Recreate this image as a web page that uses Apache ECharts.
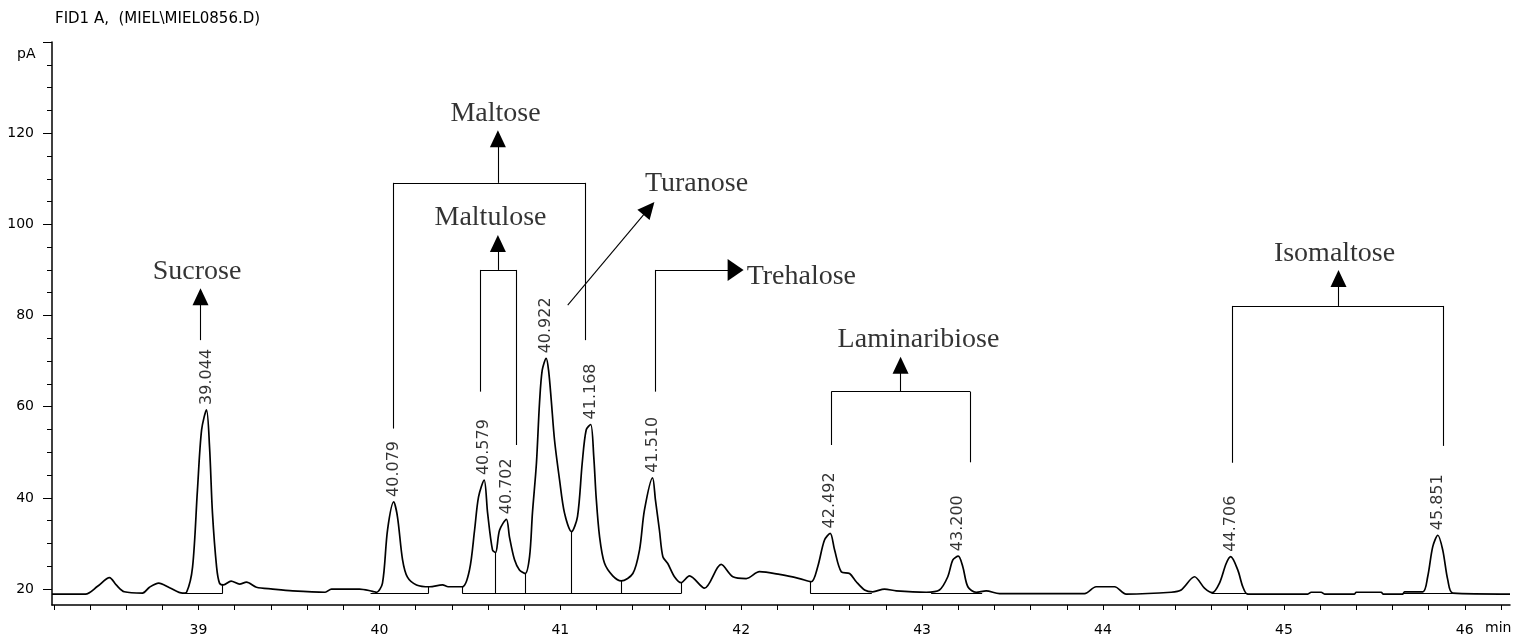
<!DOCTYPE html>
<html>
<head>
<meta charset="utf-8">
<script src="https://cdn.jsdelivr.net/npm/echarts@6/dist/echarts.min.js"></script>
<style>
html,body{margin:0;padding:0;background:#fff;}
#chart{width:1516px;height:638px;}
</style>
</head>
<body>
<div id="chart"></div>
<script>
// ---- Chromatogram trace (retention time in min, signal in pA) ----
const traceTimes = [38.19,38.375,38.442,38.508,38.545,38.59,38.69,38.729,38.78,38.84,38.912,38.934,38.967,38.994,39.017,39.044,39.061,39.077,39.1,39.116,39.138,39.18,39.227,39.265,39.32,39.41,39.52,39.70,39.735,39.89,39.962,39.984,40.017,40.045,40.079,40.1,40.128,40.155,40.205,40.277,40.349,40.38,40.459,40.498,40.526,40.548,40.579,40.598,40.625,40.642,40.664,40.702,40.719,40.747,40.774,40.806,40.830,40.846,40.868,40.885,40.900,40.922,40.935,40.950,40.968,40.996,41.023,41.062,41.095,41.121,41.143,41.168,41.185,41.198,41.217,41.244,41.290,41.337,41.401,41.438,41.465,41.510,41.526,41.548,41.567,41.594,41.631,41.668,41.714,41.797,41.889,41.954,42.028,42.101,42.212,42.322,42.387,42.423,42.460,42.492,42.516,42.553,42.599,42.636,42.682,42.727,42.792,42.857,43.023,43.096,43.142,43.170,43.200,43.225,43.253,43.299,43.354,43.428,43.898,43.962,44.064,44.128,44.377,44.432,44.506,44.561,44.604,44.644,44.681,44.706,44.745,44.773,44.800,45.132,45.151,45.206,45.225,45.390,45.400,45.538,45.550,45.657,45.667,45.768,45.795,45.823,45.851,45.878,45.906,45.934,46.25];
const traceSignal = [18.9,18.9,20.6,22.5,20.9,19.4,19.1,20.4,21.3,20.3,19.1,19.3,24.8,41.7,54.9,59.3,51.1,36.7,24.8,21.3,20.9,21.75,21.1,21.5,20.4,20.0,19.6,19.3,20.0,20.0,19.5,19.3,21.3,33.0,39.1,35.8,26.4,22.6,20.9,20.5,20.9,20.5,20.5,24.2,32.9,40.2,43.9,36.7,28.6,28.0,32.9,35.3,31.4,26.4,24.2,23.4,27.1,36.7,47.6,60.8,68.0,70.6,68.0,61.4,52.7,43.9,36.7,32.6,35.9,47.6,54.9,56.1,49.0,40.2,31.5,25.7,22.9,21.8,23.4,28.6,37.3,44.4,39.5,32.9,27.1,25.6,22.7,21.4,22.9,20.2,25.4,22.7,22.3,23.8,23.2,22.3,21.6,24.9,30.7,32.2,28.6,23.8,23.4,21.6,19.8,19.4,20.0,19.6,19.3,19.8,22.7,26.4,27.2,24.9,20.5,19.3,19.6,19.0,19.0,20.5,20.5,18.9,19.3,19.8,22.7,20.2,19.2,21.3,25.6,27.1,24.2,20.5,18.9,18.9,19.3,19.3,18.9,18.9,19.3,19.3,18.9,18.9,19.4,19.4,22.7,29.3,31.8,28.6,22.0,19.1,18.9];

// ---- Integrated peaks (apex time, apex height) ----
const peakTimes = [39.044,40.079,40.579,40.702,40.922,41.168,41.510,42.492,43.200,44.706,45.851];
const peakHeights = [59.3,39.1,43.9,35.3,70.6,56.1,44.4,32.2,27.2,27.1,31.8];

// ---- Integration baselines and drop lines ----
const baselineLevel = 19.0;
const baselineStarts = [38.912,39.951,40.459,42.383,43.050,44.600,45.656];
const baselineEnds   = [39.133,40.271,41.668,42.722,43.332,44.800,45.934];
const dropTimes = [39.133,40.271,40.459,40.642,40.806,41.062,41.337,41.668,42.383];
const dropTops  = [20.9,20.5,20.5,28.0,23.4,32.6,21.8,21.4,21.6];

// ---- Compound annotations ----
const compoundNames = ['Sucrose','Maltose','Maltulose','Turanose','Trehalose','Laminaribiose','Isomaltose'];
const nameTimes   = [38.992,40.642,40.614,41.753,42.030,42.980,45.280];
const nameSignals = [89.7,124.2,101.4,109.0,88.6,74.6,93.5];
// brackets: left time, left bottom, right time, right bottom, top level
const bracketLeftT  = [40.078,40.557,42.498,44.714];
const bracketLeftB  = [55.2,63.3,51.6,47.7];
const bracketRightT = [41.139,40.756,43.266,45.882];
const bracketRightB = [74.6,51.6,47.8,51.4];
const bracketTop    = [109.1,90.0,63.3,82.1];
// arrows: start (t,v) -> head (t,v)
const arrowStartT = [39.011,40.655,40.655,41.041,42.881,45.302,41.525];
const arrowStartV = [74.6,109.1,90.0,82.3,63.3,82.1,90.0];
const arrowEndT   = [39.011,40.655,40.655,41.490,42.881,45.302,41.969];
const arrowEndV   = [84.1,118.8,95.8,103.5,69.1,88.1,90.0];
// Trehalose leader vertical part
const trehaloseStemT = 41.525, trehaloseStemBottom = 63.3;

// ---- Axis ticks ----
const xTickValues = [38.2,38.4,38.6,38.8,39.0,39.2,39.4,39.6,39.8,40.0,40.2,40.4,40.6,40.8,41.0,41.2,41.4,41.6,41.8,42.0,42.2,42.4,42.6,42.8,43.0,43.2,43.4,43.6,43.8,44.0,44.2,44.4,44.6,44.8,45.0,45.2,45.4,45.6,45.8,46.0,46.2];
const xLabelValues = [39,40,41,42,43,44,45,46];
const yMinorTicks = [20,25,30,35,40,45,50,55,60,65,70,75,80,85,90,95,100,105,110,115,120,125,130,135,140];
const yMajorTicks = [20,40,60,80,100,120,140];
const yLabelValues = [20,40,60,80,100,120];

// ---------------------------------------------------------------
const trace = traceTimes.map((t, i) => [t, traceSignal[i]]);
const seg = (a, b) => [{coord: a}, {coord: b}];

const plainSegs = [];
baselineStarts.forEach((s, i) => plainSegs.push(seg([s, baselineLevel], [baselineEnds[i], baselineLevel])));
dropTimes.forEach((t, i) => plainSegs.push(seg([t, baselineLevel], [t, dropTops[i]])));
bracketLeftT.forEach((lt, i) => {
  plainSegs.push(seg([lt, bracketLeftB[i]], [lt, bracketTop[i]]));
  plainSegs.push(seg([lt, bracketTop[i]], [bracketRightT[i], bracketTop[i]]));
  plainSegs.push(seg([bracketRightT[i], bracketTop[i]], [bracketRightT[i], bracketRightB[i]]));
});
plainSegs.push(seg([trehaloseStemT, trehaloseStemBottom], [trehaloseStemT, arrowStartV[6]]));

const arrowSegs = arrowStartT.map((t, i) => {
  const end = {coord: [arrowEndT[i], arrowEndV[i]]};
  if (i === 6) end.symbolSize = [22, 16];
  return [{coord: [t, arrowStartV[i]]}, end];
});

const names = compoundNames.map((n, i) => ({
  value: [nameTimes[i], nameSignals[i]],
  name: n,
  label: n === 'Trehalose' ? {align: 'left'} : {}
}));

const black = '#000';
const axisFont = {fontFamily: 'DejaVu Sans', fontSize: 14, color: black};

const chart = echarts.init(document.getElementById('chart'), null, {renderer: 'canvas'});
chart.setOption({
  animation: false,
  backgroundColor: '#fff',
  grid: {left: 52, right: 6, top: 42, bottom: 33, containLabel: false},
  xAxis: {
    type: 'value', min: 38.19, max: 46.25,
    axisLine: {show: true, onZero: false, lineStyle: {color: black, width: 1.5}},
    axisTick: {show: true, length: 5, customValues: xTickValues, lineStyle: {color: black, width: 1}},
    axisLabel: {show: true, customValues: xLabelValues, margin: 18, ...axisFont,
      formatter: v => String(Math.round(v))},
    splitLine: {show: false}
  },
  yAxis: [{
    type: 'value', min: 16.5, max: 140, position: 'left',
    axisLine: {show: true, onZero: false, lineStyle: {color: black, width: 1.5}},
    axisTick: {show: true, length: 5, customValues: yMinorTicks, lineStyle: {color: black, width: 1}},
    axisLabel: {show: false},
    splitLine: {show: false}
  }, {
    type: 'value', min: 16.5, max: 140, position: 'left', offset: 0,
    axisLine: {show: false},
    axisTick: {show: true, length: 9, customValues: yMajorTicks, lineStyle: {color: black, width: 1}},
    axisLabel: {show: true, customValues: yLabelValues, margin: 18, ...axisFont},
    splitLine: {show: false}
  }],
  graphic: [
    {type: 'text', left: 55, top: 12, style: {text: 'FID1 A,  (MIEL\\MIEL0856.D)', font: '15px "DejaVu Sans"', fill: black}},
    {type: 'text', left: 17, top: 47, style: {text: 'pA', font: '14px "DejaVu Sans"', fill: black}},
    {type: 'text', left: 1485, top: 621, style: {text: 'min', font: '14px "DejaVu Sans"', fill: black}}
  ],
  series: [{
    name: 'FID1 A', type: 'line', data: trace, showSymbol: false, symbol: 'none',
    smooth: 0.3,
    lineStyle: {color: black, width: 1.7, join: 'round'}, silent: true, z: 3
  }, {
    name: 'segments', type: 'line', data: [], silent: true,
    markLine: {silent: true, symbol: ['none', 'none'], label: {show: false},
      lineStyle: {color: black, width: 1.1, type: 'solid'}, emphasis: {disabled: true}, data: plainSegs}
  }, {
    name: 'arrows', type: 'line', data: [], silent: true,
    markLine: {silent: true, symbol: ['none', 'triangle'], symbolSize: [16, 17], label: {show: false},
      lineStyle: {color: black, width: 1.1, type: 'solid'}, itemStyle: {color: black},
      emphasis: {disabled: true}, data: arrowSegs}
  }, {
    name: 'peakLabels', type: 'scatter', symbolSize: 0, silent: true,
    data: peakTimes.map((t, i) => [t, peakHeights[i]]),
    label: {show: true, position: 'top', distance: 5, rotate: 90, align: 'left', verticalAlign: 'middle',
      fontFamily: 'DejaVu Sans', fontSize: 16, color: black,
      formatter: p => p.value[0].toFixed(3)}
  }, {
    name: 'compounds', type: 'scatter', symbolSize: 0, silent: true, data: names,
    label: {show: true, position: 'inside', fontFamily: '"Liberation Serif", "Times New Roman", serif',
      fontSize: 28, color: black, formatter: p => p.name}
  }]
});
</script>
</body>
</html>
